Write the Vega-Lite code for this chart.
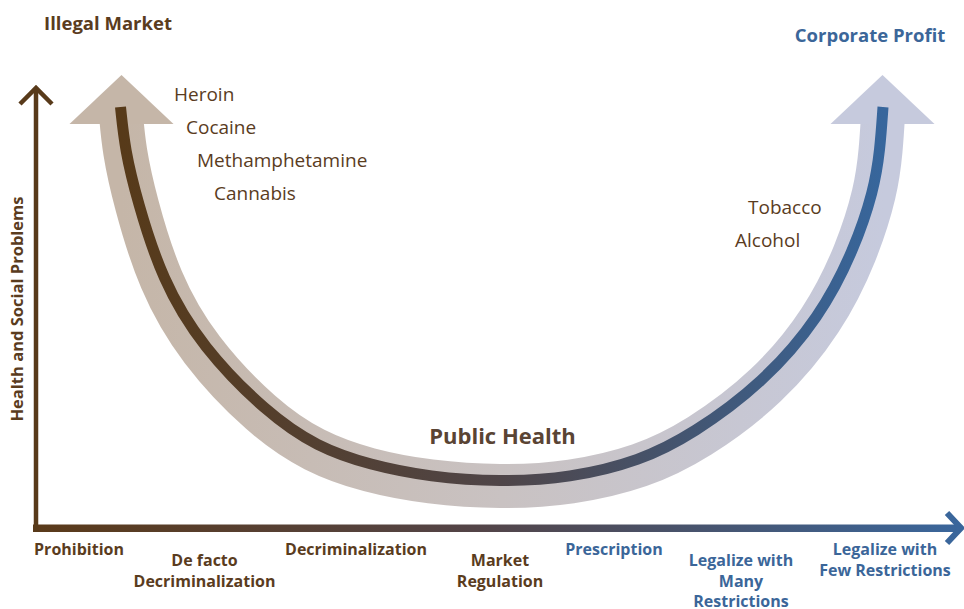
{
  "$schema": "https://vega.github.io/schema/vega-lite/v6.json",
  "width": 964,
  "height": 609,
  "autosize": "none",
  "padding": 0,
  "background": "white",
  "config": {"view": {"stroke": null}, "axis": {"disable": true}, "legend": {"disable": true}},
  "datasets": {
    "band": [
      {"x": 120.8, "y": 112}, {"x": 124, "y": 150}, {"x": 135, "y": 201}, {"x": 159, "y": 281.5},
      {"x": 198, "y": 350}, {"x": 263, "y": 418}, {"x": 314, "y": 452}, {"x": 368, "y": 471},
      {"x": 429, "y": 482.5}, {"x": 500, "y": 487.5}, {"x": 571, "y": 483.5}, {"x": 642, "y": 467},
      {"x": 697, "y": 440}, {"x": 768, "y": 388}, {"x": 824, "y": 320}, {"x": 857, "y": 252},
      {"x": 876, "y": 191}, {"x": 881, "y": 150}, {"x": 883.2, "y": 112}
    ],
    "dark": [
      {"x": 120.5, "y": 107}, {"x": 125, "y": 150}, {"x": 137, "y": 200}, {"x": 162, "y": 280},
      {"x": 202, "y": 347}, {"x": 267, "y": 413}, {"x": 317, "y": 447}, {"x": 370, "y": 465},
      {"x": 430, "y": 477}, {"x": 500, "y": 482}, {"x": 570, "y": 478}, {"x": 640, "y": 461},
      {"x": 693, "y": 434}, {"x": 763, "y": 383}, {"x": 820, "y": 317}, {"x": 854, "y": 250},
      {"x": 874, "y": 190}, {"x": 880, "y": 150}, {"x": 883, "y": 107}
    ],
    "heads": [
      {"x": 121.5, "y": 99.5, "end": "illegal"},
      {"x": 882.5, "y": 99.5, "end": "legal"}
    ],
    "yaxis": [{"x": 36, "y": 88, "y2": 532}],
    "ychev": [{"x": 20, "y": 104}, {"x": 36, "y": 88}, {"x": 52, "y": 104}],
    "xaxis": [{"x": 33, "x2": 957, "y": 524.5, "y2": 532}],
    "xchev": [{"x": 947, "y": 513, "o": 1}, {"x": 961, "y": 528, "o": 2}, {"x": 947, "y": 543, "o": 3}],
    "drugs": [
      {"label": "Heroin", "x": 174, "y": 100.5},
      {"label": "Cocaine", "x": 186, "y": 133.5},
      {"label": "Methamphetamine", "x": 197, "y": 166.5},
      {"label": "Cannabis", "x": 214, "y": 199.5},
      {"label": "Tobacco", "x": 748, "y": 213.5},
      {"label": "Alcohol", "x": 735, "y": 246.5}
    ],
    "titles": [
      {"label": "Illegal Market", "x": 108, "y": 30, "side": "illegal"},
      {"label": "Corporate Profit", "x": 870, "y": 41.5, "side": "legal"}
    ],
    "center": [{"label": "Public Health", "x": 502.5, "y": 444}],
    "xlabels": [
      {"label": "Prohibition", "x": 79, "y": 555, "side": "illegal"},
      {"label": "De facto\nDecriminalization", "x": 204.5, "y": 566, "side": "illegal"},
      {"label": "Decriminalization", "x": 356, "y": 555, "side": "illegal"},
      {"label": "Market\nRegulation", "x": 500, "y": 566, "side": "illegal"},
      {"label": "Prescription", "x": 614, "y": 555, "side": "legal"},
      {"label": "Legalize with\nMany\nRestrictions", "x": 741, "y": 566, "side": "legal"},
      {"label": "Legalize with\nFew Restrictions", "x": 885, "y": 555, "side": "legal"}
    ],
    "ylabel": [{"label": "Health and Social Problems", "x": 23.3, "y": 309}]
  },
  "layer": [
    {
      "data": {"name": "band"},
      "mark": {
        "type": "line", "interpolate": "basis", "strokeWidth": 44, "strokeCap": "butt",
        "stroke": {"gradient": "linear", "x1": 0, "x2": 1, "y1": 0, "y2": 0,
          "stops": [{"offset": 0, "color": "#c5b6a8"}, {"offset": 0.5, "color": "#c9c2c2"}, {"offset": 1, "color": "#c6cadd"}]}
      },
      "encoding": {
        "x": {"field": "x", "type": "quantitative", "scale": {"domain": [0, 964], "nice": false, "zero": false}, "axis": null},
        "y": {"field": "y", "type": "quantitative", "scale": {"domain": [0, 609], "nice": false, "zero": false, "reverse": true}, "axis": null}
      }
    },
    {
      "data": {"name": "heads"},
      "mark": {"type": "point", "filled": true, "opacity": 1, "size": 10816, "shape": "M-1,0.471L0,-0.471L1,0.471Z"},
      "encoding": {
        "x": {"field": "x", "type": "quantitative", "scale": {"domain": [0, 964], "nice": false, "zero": false}, "axis": null},
        "y": {"field": "y", "type": "quantitative", "scale": {"domain": [0, 609], "nice": false, "zero": false, "reverse": true}, "axis": null},
        "color": {"field": "end", "type": "nominal", "scale": {"domain": ["illegal", "legal"], "range": ["#c5b6a8", "#c6cadd"]}, "legend": null}
      }
    },
    {
      "data": {"name": "dark"},
      "mark": {
        "type": "line", "interpolate": "basis", "strokeWidth": 11, "strokeCap": "butt",
        "stroke": {"gradient": "linear", "x1": 0, "x2": 1, "y1": 0, "y2": 0,
          "stops": [{"offset": 0, "color": "#573a19"}, {"offset": 0.5, "color": "#4f4548"}, {"offset": 1, "color": "#37669c"}]}
      },
      "encoding": {
        "x": {"field": "x", "type": "quantitative", "scale": {"domain": [0, 964], "nice": false, "zero": false}, "axis": null},
        "y": {"field": "y", "type": "quantitative", "scale": {"domain": [0, 609], "nice": false, "zero": false, "reverse": true}, "axis": null}
      }
    },
    {
      "data": {"name": "xaxis"},
      "mark": {
        "type": "rect",
        "fill": {"gradient": "linear", "x1": 0, "x2": 1, "y1": 0, "y2": 0,
          "stops": [{"offset": 0, "color": "#5a3a1a"}, {"offset": 0.48, "color": "#534447"}, {"offset": 1, "color": "#3a669b"}]}
      },
      "encoding": {
        "x": {"field": "x", "type": "quantitative", "scale": {"domain": [0, 964], "nice": false, "zero": false}, "axis": null},
        "x2": {"field": "x2"},
        "y": {"field": "y", "type": "quantitative", "scale": {"domain": [0, 609], "nice": false, "zero": false, "reverse": true}, "axis": null},
        "y2": {"field": "y2"}
      }
    },
    {
      "data": {"name": "xchev"},
      "mark": {"type": "line", "color": "#3a669b", "strokeWidth": 6, "strokeJoin": "miter", "strokeCap": "butt"},
      "encoding": {
        "x": {"field": "x", "type": "quantitative", "scale": {"domain": [0, 964], "nice": false, "zero": false}, "axis": null},
        "y": {"field": "y", "type": "quantitative", "scale": {"domain": [0, 609], "nice": false, "zero": false, "reverse": true}, "axis": null},
        "order": {"field": "o", "type": "quantitative"}
      }
    },
    {
      "data": {"name": "yaxis"},
      "mark": {"type": "rule", "color": "#583a1a", "strokeWidth": 4.5, "strokeCap": "butt"},
      "encoding": {
        "x": {"field": "x", "type": "quantitative", "scale": {"domain": [0, 964], "nice": false, "zero": false}, "axis": null},
        "y": {"field": "y", "type": "quantitative", "scale": {"domain": [0, 609], "nice": false, "zero": false, "reverse": true}, "axis": null},
        "y2": {"field": "y2"}
      }
    },
    {
      "data": {"name": "ychev"},
      "mark": {"type": "line", "color": "#583a1a", "strokeWidth": 4.5, "strokeJoin": "miter", "strokeCap": "butt"},
      "encoding": {
        "x": {"field": "x", "type": "quantitative", "scale": {"domain": [0, 964], "nice": false, "zero": false}, "axis": null},
        "y": {"field": "y", "type": "quantitative", "scale": {"domain": [0, 609], "nice": false, "zero": false, "reverse": true}, "axis": null}
      }
    },
    {
      "data": {"name": "drugs"},
      "mark": {"type": "text", "align": "left", "baseline": "alphabetic", "font": "Open Sans", "fontSize": 19, "color": "#5a3c1e"},
      "encoding": {
        "x": {"field": "x", "type": "quantitative", "scale": {"domain": [0, 964], "nice": false, "zero": false}, "axis": null},
        "y": {"field": "y", "type": "quantitative", "scale": {"domain": [0, 609], "nice": false, "zero": false, "reverse": true}, "axis": null},
        "text": {"field": "label", "type": "nominal"}
      }
    },
    {
      "data": {"name": "titles"},
      "mark": {"type": "text", "align": "center", "baseline": "alphabetic", "font": "Open Sans", "fontWeight": "bold", "fontSize": 18.5},
      "encoding": {
        "x": {"field": "x", "type": "quantitative", "scale": {"domain": [0, 964], "nice": false, "zero": false}, "axis": null},
        "y": {"field": "y", "type": "quantitative", "scale": {"domain": [0, 609], "nice": false, "zero": false, "reverse": true}, "axis": null},
        "text": {"field": "label", "type": "nominal"},
        "color": {"field": "side", "type": "nominal", "scale": {"domain": ["illegal", "legal"], "range": ["#5a3c1e", "#3b6699"]}, "legend": null}
      }
    },
    {
      "data": {"name": "center"},
      "mark": {"type": "text", "align": "center", "baseline": "alphabetic", "font": "Open Sans", "fontWeight": "bold", "fontSize": 22, "color": "#5a4434"},
      "encoding": {
        "x": {"field": "x", "type": "quantitative", "scale": {"domain": [0, 964], "nice": false, "zero": false}, "axis": null},
        "y": {"field": "y", "type": "quantitative", "scale": {"domain": [0, 609], "nice": false, "zero": false, "reverse": true}, "axis": null},
        "text": {"field": "label", "type": "nominal"}
      }
    },
    {
      "data": {"name": "xlabels"},
      "mark": {"type": "text", "align": "center", "baseline": "alphabetic", "font": "Open Sans", "fontWeight": "bold", "fontSize": 16, "lineBreak": "\n", "lineHeight": 20.7},
      "encoding": {
        "x": {"field": "x", "type": "quantitative", "scale": {"domain": [0, 964], "nice": false, "zero": false}, "axis": null},
        "y": {"field": "y", "type": "quantitative", "scale": {"domain": [0, 609], "nice": false, "zero": false, "reverse": true}, "axis": null},
        "text": {"field": "label", "type": "nominal"},
        "color": {"field": "side", "type": "nominal", "scale": {"domain": ["illegal", "legal"], "range": ["#5a3c1e", "#3b6699"]}, "legend": null}
      }
    },
    {
      "data": {"name": "ylabel"},
      "mark": {"type": "text", "align": "center", "baseline": "alphabetic", "angle": 270, "font": "Open Sans", "fontWeight": "bold", "fontSize": 16.5, "color": "#5a3c1e"},
      "encoding": {
        "x": {"field": "x", "type": "quantitative", "scale": {"domain": [0, 964], "nice": false, "zero": false}, "axis": null},
        "y": {"field": "y", "type": "quantitative", "scale": {"domain": [0, 609], "nice": false, "zero": false, "reverse": true}, "axis": null},
        "text": {"field": "label", "type": "nominal"}
      }
    }
  ],
  "resolve": {"scale": {"color": "independent"}}
}
